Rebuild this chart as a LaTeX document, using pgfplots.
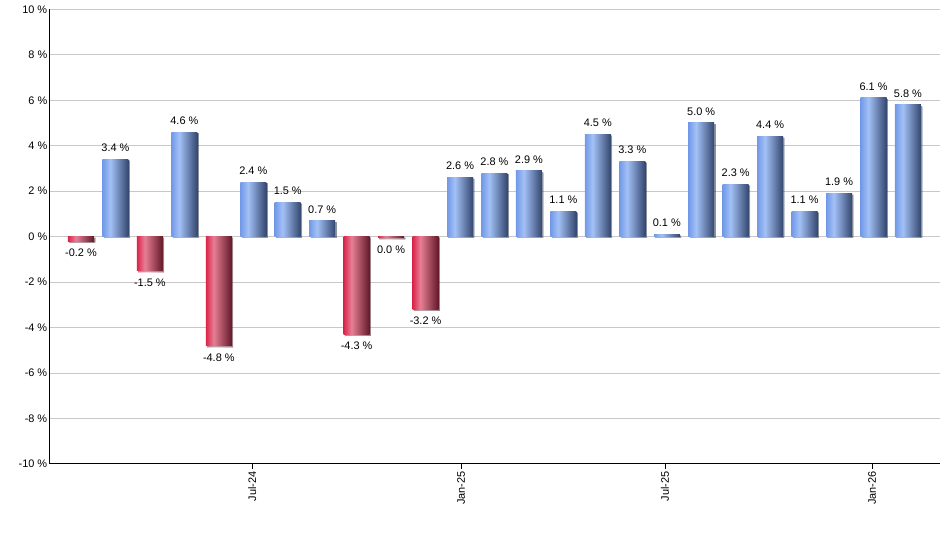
\documentclass[border=0pt]{standalone}
\usepackage{fontspec}
\setmainfont{Liberation Sans}
\usepackage{pgfplots}
\pgfplotsset{compat=1.18}
\usepackage{pgfplotstable}
\usetikzlibrary{shadows}

\definecolor{blueA}{HTML}{7299E8}
\definecolor{blueB}{HTML}{A3C1F6}
\definecolor{blueC}{HTML}{33466E}
\definecolor{redA}{HTML}{DC244A}
\definecolor{redB}{HTML}{E67F95}
\definecolor{redC}{HTML}{621828}
\definecolor{gridgray}{HTML}{C8C8C8}

\pgfdeclarehorizontalshading{blueshade}{100bp}{color(0bp)=(blueA); color(25bp)=(blueA); color(40bp)=(blueB); color(75bp)=(blueC); color(100bp)=(blueC)}
\pgfdeclarehorizontalshading{redshade}{100bp}{color(0bp)=(redA); color(25bp)=(redA); color(40bp)=(redB); color(75bp)=(redC); color(100bp)=(redC)}

% monthly change, Feb-24 = 0 ... Feb-26 = 24
\pgfplotstableread{
x y lab
1 3.4 3.4
3 4.6 4.6
5 2.4 2.4
6 1.5 1.5
7 0.7 0.7
11 2.6 2.6
12 2.8 2.8
13 2.9 2.9
14 1.1 1.1
15 4.5 4.5
16 3.3 3.3
17 0.1 0.1
18 5.0 5.0
19 2.3 2.3
20 4.4 4.4
21 1.1 1.1
22 1.9 1.9
23 6.1 6.1
24 5.8 5.8
}\posdata

\pgfplotstableread{
x y lab
0 -0.2 -0.2
2 -1.5 -1.5
4 -4.8 -4.8
8 -4.3 -4.3
9 -0.05 0.0
10 -3.2 -3.2
}\negdata

\pgfplotsset{
    mybar/.style={ybar, bar width=19.5pt, bar shift=0pt, draw=none, shade,
        drop shadow={shadow xshift=1pt, shadow yshift=-1pt, fill=black, opacity=0.3}},
}

\begin{document}
\begin{tikzpicture}
\path[use as bounding box] (-37.125pt,-64.5pt) rectangle (667.875pt,348pt);
\begin{axis}[
    at={(0,0)}, anchor=south west,
    scale only axis,
    width=667.875pt, height=341pt,
    xmin=-0.914, xmax=24.93,
    ymin=-10, ymax=10,
    axis x line*=bottom, axis y line*=left,
    axis line style={black, line width=0.75pt, -},
    ytick={-10,-8,...,10},
    ymajorgrids=true,
    grid style={gridgray, line width=0.75pt},
    ytick style={draw=none},
    xtick={4.97,11.03,16.95,22.96},
    xticklabels={Jul-24,Jan-25,Jul-25,Jan-26},
    xtick style={black, line width=0.75pt},
    tick align=outside,
    major tick length=3.75pt,
    x tick label style={rotate=90, anchor=east, inner sep=1.5pt},
    y tick label style={inner sep=1.5pt, xshift=3.75pt},
    tick label style={font=\fontsize{8.2}{9}\selectfont, text=black},
    /pgf/number format/assume math mode=true,
    yticklabel={\pgfmathprintnumber{\tick} \%},
    point meta=explicit,
    nodes near coords={\pgfmathprintnumber[fixed,fixed zerofill,precision=1]{\pgfplotspointmeta} \%},
    every node near coord/.style={font=\fontsize{8.2}{9}\selectfont, text=black, inner sep=0pt},
]
% one plot per bar so that each bar gets its own shading
\pgfplotsinvokeforeach{0,...,18}{
\addplot[mybar, shading=blueshade,
    every node near coord/.append style={anchor=south, yshift=5.5pt},
    restrict expr to domain={\coordindex}{#1:#1}]
    table[x=x, y=y, meta=lab] {\posdata};
}
\pgfplotsinvokeforeach{0,...,5}{
\addplot[mybar, shading=redshade,
    every node near coord/.append style={anchor=north, yshift=-5.6pt},
    restrict expr to domain={\coordindex}{#1:#1}]
    table[x=x, y=y, meta=lab] {\negdata};
}
\end{axis}
\end{tikzpicture}
\end{document}
